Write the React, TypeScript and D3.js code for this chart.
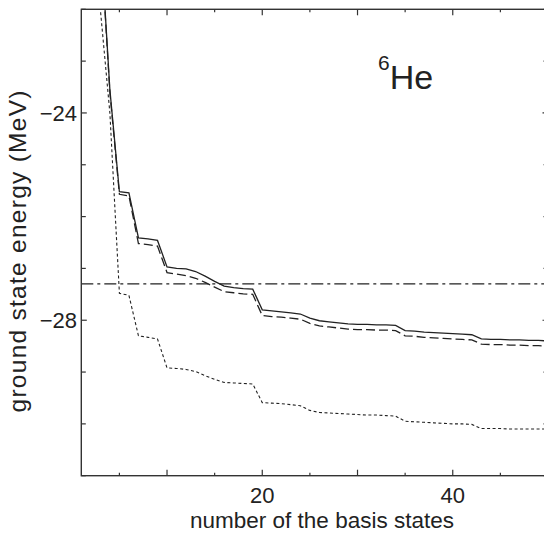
import React from "react";
import * as d3 from "d3";

const basisN = d3.range(1, 51);

const solidEnergy = [
  -12, -17, -20.5, -23.55, -25.52, -25.54, -26.41, -26.43, -26.46, -26.97,
  -27.0, -27.01, -27.06, -27.15, -27.25, -27.34, -27.37, -27.39, -27.4, -27.8,
  -27.82, -27.84, -27.86, -27.88, -27.96, -28.01, -28.03, -28.05, -28.07, -28.08,
  -28.08, -28.09, -28.09, -28.1, -28.2, -28.21, -28.23, -28.24, -28.25, -28.26,
  -28.27, -28.28, -28.36, -28.37, -28.37, -28.38, -28.38, -28.39, -28.39, -28.4,
];

const dashedEnergy = [
  -12.02, -17.03, -20.55, -23.6, -25.57, -25.6, -26.52, -26.54, -26.57, -27.08,
  -27.11, -27.14, -27.19, -27.27, -27.36, -27.45, -27.47, -27.49, -27.5, -27.91,
  -27.93, -27.94, -27.96, -27.98, -28.06, -28.11, -28.13, -28.15, -28.17, -28.18,
  -28.18, -28.19, -28.19, -28.2, -28.3, -28.31, -28.33, -28.34, -28.35, -28.36,
  -28.37, -28.38, -28.46, -28.47, -28.47, -28.48, -28.48, -28.49, -28.49, -28.5,
];

const dottedEnergy = [
  -14, -19, -22.0, -24.0, -27.48, -27.52, -28.3, -28.33, -28.36, -28.92,
  -28.93, -28.95, -28.99, -29.07, -29.14, -29.2, -29.21, -29.22, -29.23, -29.59,
  -29.6, -29.61, -29.63, -29.65, -29.74, -29.78, -29.79, -29.8, -29.81, -29.82,
  -29.83, -29.83, -29.84, -29.85, -29.95, -29.96, -29.97, -29.98, -29.99, -30.0,
  -30.0, -30.01, -30.09, -30.09, -30.09, -30.1, -30.1, -30.1, -30.1, -30.1,
];

const referenceEnergy = -27.3;

const xTicks = [5, 10, 15, 20, 25, 30, 35, 40, 45, 50];
const xMajorTicks = [10, 20, 30, 40, 50];
const xTickLabels = [20, 40];
const yTicks = [-31, -30, -29, -28, -27, -26, -25, -24, -23, -22];
const yTickLabels = [-28, -24];

const xTitle = "number of the basis states";
const yTitle = "ground state energy (MeV)";

const W = 544;
const H = 533;
const left = 81.3;
const right = 548;
const top = 9.3;
const bottom = 475.7;

const FONT = "'Liberation Sans', Arial, Helvetica, sans-serif";
const INK = "#222";

export default function App() {
  const x = d3.scaleLinear().domain([1, 50]).range([left, right]);
  const y = d3.scaleLinear().domain([-31, -22]).range([bottom, top]);

  const line = (vals: number[]) =>
    d3
      .line<number>()
      .x((_, i) => x(basisN[i]))
      .y((d) => y(d))(vals) || "";

  const fmt = (v: number) => (v < 0 ? "\u2212" + Math.abs(v) : String(v));

  return (
    <svg
      width={W}
      height={H}
      style={{ position: "absolute", left: 0, top: 0, background: "#fff" }}
      fontFamily={FONT}
    >
      <defs>
        <clipPath id="plot">
          <rect x={left} y={top} width={right - left} height={bottom - top} />
        </clipPath>
      </defs>
      <rect x={0} y={0} width={W} height={H} fill="#fff" />

      <g clipPath="url(#plot)" fill="none">
        <line
          x1={left}
          x2={right}
          y1={y(referenceEnergy)}
          y2={y(referenceEnergy)}
          stroke={INK}
          strokeWidth={1.2}
          strokeDasharray="12,4,3,4"
        />
        <path d={line(dottedEnergy)} stroke={INK} strokeWidth={1.1} strokeDasharray="3,2.5" />
        <path d={line(dashedEnergy)} stroke={INK} strokeWidth={1.3} strokeDasharray="9,4" />
        <path d={line(solidEnergy)} stroke={INK} strokeWidth={1.3} />
      </g>

      {/* frame */}
      <rect
        x={left}
        y={top}
        width={right - left}
        height={bottom - top}
        fill="none"
        stroke="#333"
        strokeWidth={1.4}
      />

      {/* x ticks bottom & top */}
      {xTicks.map((t) => {
        const len = xMajorTicks.includes(t) ? 6 : 3;
        return (
          <g key={"xt" + t} stroke="#333" strokeWidth={1.2}>
            <line x1={x(t)} x2={x(t)} y1={bottom} y2={bottom - len} />
            <line x1={x(t)} x2={x(t)} y1={top} y2={top + len} />
          </g>
        );
      })}
      {/* y ticks left & right */}
      {yTicks.map((t) => {
        const len = yTickLabels.includes(t) ? 5.5 : 4.5;
        return (
          <g key={"yt" + t} stroke="#333" strokeWidth={1.2}>
            <line x1={left} x2={left + len} y1={y(t)} y2={y(t)} />
            <line x1={right} x2={right - len} y1={y(t)} y2={y(t)} />
          </g>
        );
      })}

      {xTickLabels.map((t) => (
        <text
          key={"xl" + t}
          x={x(t)}
          y={502.5}
          textAnchor="middle"
          fontSize={22}
          fill={INK}
        >
          {fmt(t)}
        </text>
      ))}
      {yTickLabels.map((t) => (
        <text
          key={"yl" + t}
          x={77}
          y={y(t)}
          dy="0.36em"
          textAnchor="end"
          fontSize={22}
          fill={INK}
        >
          {fmt(t)}
        </text>
      ))}

      <text x={322} y={528} textAnchor="middle" fontSize={22.5} fill={INK}>
        {xTitle}
      </text>
      <text
        transform={`translate(26, 251.5) rotate(-90)`}
        textAnchor="middle"
        fontSize={24.5}
        textLength={322}
        lengthAdjust="spacing"
        fill={INK}
      >
        {yTitle}
      </text>

      <text x={378} y={89} fontSize={34} fill={INK}>
        <tspan fontSize={21} dy={-19}>6</tspan>
        <tspan dy={19}>He</tspan>
      </text>
    </svg>
  );
}
